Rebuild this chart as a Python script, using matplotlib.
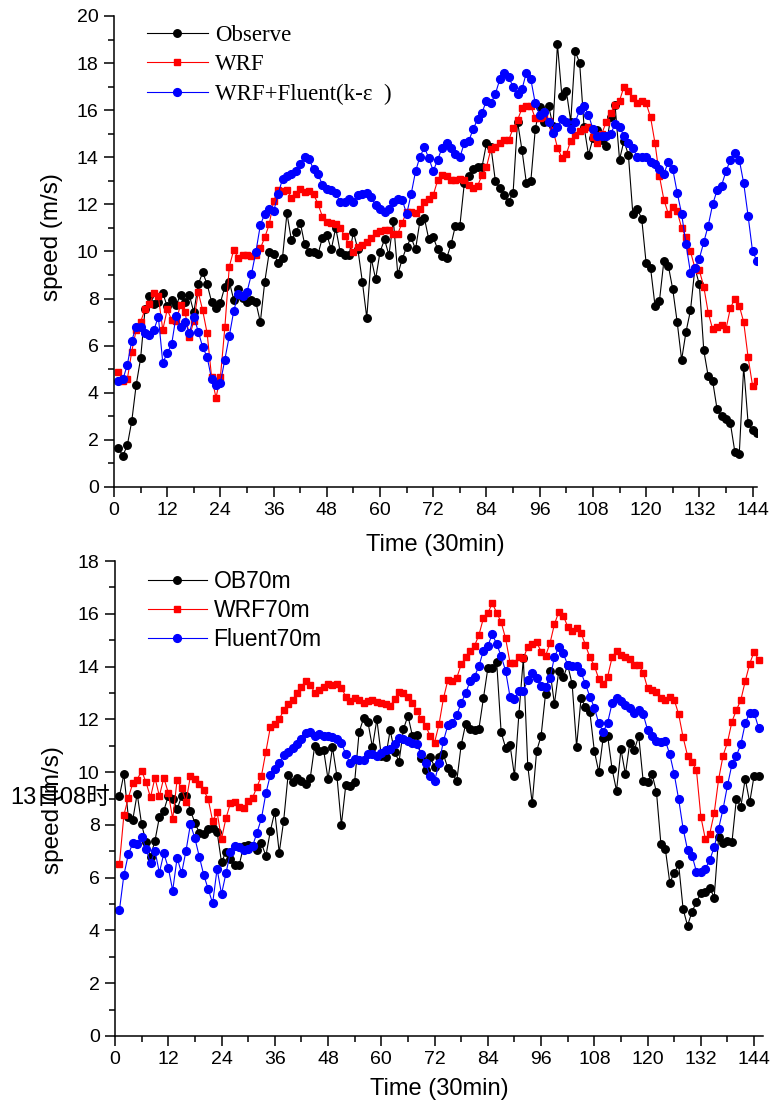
import numpy as np
import matplotlib

matplotlib.use("Agg")
import matplotlib.pyplot as plt
from matplotlib import font_manager
from matplotlib.ticker import MultipleLocator

# ---- data (speed, m/s), one value per 30 min step, steps 1..145 ----
obs_top = [
    1.64, 1.33, 1.77, 2.79, 4.33, 5.46, 7.54, 8.12, 7.77, 7.87,
    8.23, 7.67, 7.95, 7.74, 8.14, 7.84, 8.14, 7.42, 8.61, 9.11,
    8.61, 7.87, 7.59, 7.83, 8.51, 8.72, 7.95, 8.40, 8.01, 7.87,
    7.95, 7.84, 7.00, 8.72, 9.96, 9.91, 9.53, 9.74, 11.62, 10.49,
    10.82, 11.23, 10.30, 9.98, 9.98, 9.88, 10.59, 10.70, 10.09, 11.01,
    9.99, 9.85, 9.85, 10.82, 10.09, 8.72, 7.19, 9.71, 8.83, 9.99,
    10.51, 9.85, 11.31, 9.03, 9.68, 10.20, 10.60, 10.09, 11.31, 11.41,
    10.51, 10.60, 10.09, 9.81, 9.71, 10.30, 11.10, 11.10, 12.90, 13.21,
    13.49, 13.60, 13.60, 14.60, 14.45, 12.99, 12.68, 12.40, 12.09, 12.50,
    15.52, 14.31, 12.90, 12.99, 15.20, 16.12, 15.52, 16.19, 15.33, 18.80,
    16.60, 16.82, 15.52, 18.50, 18.02, 15.30, 14.10, 14.80, 15.14, 14.73,
    14.50, 15.70, 16.20, 13.90, 14.70, 14.10, 11.60, 11.80, 11.40, 9.50,
    9.30, 7.70, 7.90, 9.60, 9.40, 8.40, 7.00, 5.40, 6.60, 7.50,
    9.30, 8.60, 5.80, 4.70, 4.50, 3.30, 3.00, 2.90, 2.70, 1.50,
    1.40, 5.10, 2.70, 2.40, 2.30,
]
wrf_top = [
    4.87, 4.50, 4.57, 5.75, 6.67, 7.02, 7.54, 7.76, 8.23, 8.09,
    6.67, 7.54, 7.09, 7.05, 7.73, 7.45, 6.38, 7.05, 8.27, 7.50,
    6.53, 4.68, 3.79, 4.68, 6.78, 9.36, 10.06, 9.74, 9.85, 9.85,
    9.81, 9.85, 10.13, 10.60, 11.15, 12.14, 12.61, 12.55, 12.60, 12.29,
    12.43, 12.64, 12.54, 12.57, 12.43, 12.02, 11.48, 11.27, 11.23, 11.17,
    11.01, 10.66, 10.30, 9.99, 10.17, 10.27, 10.41, 10.58, 10.80, 10.86,
    10.90, 10.90, 10.76, 10.76, 11.23, 11.69, 11.69, 11.62, 11.79, 12.12,
    12.23, 12.40, 13.03, 13.25, 13.21, 13.03, 13.03, 13.06, 13.03, 12.82,
    12.71, 12.79, 13.25, 13.60, 14.35, 14.45, 14.60, 14.73, 14.73, 15.23,
    15.58, 16.08, 16.18, 16.18, 15.65, 15.65, 15.70, 15.55, 15.16, 14.41,
    13.98, 14.14, 14.71, 14.95, 15.12, 15.19, 15.27, 14.85, 14.60, 15.00,
    15.50, 15.90, 16.20, 16.40, 17.00, 16.80, 16.50, 16.30, 16.40, 16.30,
    15.70, 14.60, 13.20, 12.20, 11.60, 11.90, 11.70, 11.00, 10.60, 10.00,
    9.30, 9.20, 8.50, 7.40, 6.70, 6.80, 6.90, 6.70, 7.60, 8.00,
    7.70, 7.00, 5.50, 4.30, 4.50,
]
fluent_top = [
    4.50, 4.57, 5.18, 6.21, 6.81, 6.78, 6.53, 6.46, 6.67, 7.23,
    5.28, 5.68, 6.06, 7.26, 6.81, 6.99, 6.55, 7.23, 6.60, 5.94,
    5.52, 4.59, 4.33, 4.43, 5.41, 6.41, 7.47, 8.20, 8.11, 8.29,
    9.04, 9.99, 11.12, 11.60, 11.80, 11.71, 12.43, 13.08, 13.21, 13.28,
    13.40, 13.70, 14.03, 13.92, 13.49, 13.30, 12.82, 12.64, 12.61, 12.50,
    12.09, 12.12, 12.22, 12.09, 12.40, 12.43, 12.50, 12.30, 11.97, 11.79,
    11.66, 11.79, 12.12, 12.22, 12.19, 11.59, 12.43, 13.40, 14.03, 14.42,
    13.96, 13.42, 13.90, 14.41, 14.60, 14.41, 14.13, 14.01, 14.60, 14.69,
    15.20, 15.62, 15.90, 16.41, 16.29, 16.69, 17.31, 17.60, 17.40, 17.00,
    16.67, 16.89, 17.60, 17.31, 16.29, 15.80, 15.91, 15.52, 15.02, 15.30,
    15.62, 15.52, 15.20, 15.49, 16.00, 16.19, 15.80, 15.20, 14.90, 14.90,
    14.90, 15.00, 15.40, 15.30, 14.90, 14.60, 14.40, 14.00, 14.00, 14.00,
    13.80, 13.70, 13.50, 13.30, 13.80, 13.50, 12.50, 11.60, 10.30, 9.10,
    9.30, 9.70, 10.40, 11.10, 12.00, 12.60, 12.80, 13.40, 13.90, 14.20,
    13.90, 12.90, 11.50, 10.00, 9.60,
]

ob70 = [
    9.09, 9.92, 8.31, 8.19, 9.18, 8.02, 7.34, 6.80, 7.40, 8.29,
    8.54, 9.09, 9.00, 8.59, 9.09, 9.09, 8.54, 8.08, 7.70, 7.64,
    7.83, 7.90, 7.74, 6.58, 6.99, 6.71, 6.49, 6.49, 7.21, 7.24,
    7.21, 7.05, 7.30, 6.82, 7.77, 8.50, 6.95, 8.15, 9.89, 9.61,
    9.79, 9.66, 9.54, 9.79, 11.00, 10.80, 10.84, 9.73, 10.94, 9.85,
    8.00, 9.51, 9.47, 9.64, 11.51, 12.04, 11.89, 10.94, 12.00, 10.61,
    10.59, 11.59, 10.77, 10.40, 11.63, 12.14, 11.38, 11.40, 10.52, 10.08,
    10.56, 10.21, 10.56, 10.67, 10.14, 9.95, 9.66, 11.03, 11.82, 11.62,
    11.59, 11.65, 12.79, 13.93, 13.96, 14.16, 11.51, 10.93, 11.03, 9.86,
    12.19, 14.31, 10.24, 8.82, 10.80, 11.37, 12.96, 13.85, 12.58, 13.85,
    13.59, 14.06, 13.33, 10.97, 12.79, 12.48, 12.26, 10.80, 10.00, 11.31,
    11.37, 10.11, 9.30, 10.86, 9.92, 11.12, 10.84, 11.37, 9.66, 9.64,
    9.93, 9.24, 7.27, 7.08, 5.81, 6.19, 6.50, 4.81, 4.18, 4.71,
    5.07, 5.41, 5.47, 5.62, 5.24, 7.53, 7.30, 7.39, 7.34, 8.98,
    8.69, 9.75, 8.85, 9.87, 9.87,
]
wrf70 = [
    6.52, 8.37, 9.03, 9.57, 9.72, 10.05, 9.61, 9.04, 9.79, 9.09,
    9.79, 9.22, 8.22, 9.72, 9.38, 8.88, 9.86, 9.74, 9.55, 9.32,
    8.97, 8.15, 8.48, 7.47, 8.25, 8.82, 8.88, 8.69, 8.65, 8.92,
    9.03, 9.45, 9.86, 10.77, 11.70, 11.81, 12.00, 12.35, 12.58, 12.73,
    13.01, 13.24, 13.45, 13.30, 13.01, 13.11, 13.24, 13.34, 13.30, 13.34,
    13.20, 12.86, 12.71, 12.82, 12.73, 12.61, 12.70, 12.73, 12.67, 12.61,
    12.58, 12.50, 12.77, 13.05, 12.99, 12.86, 12.61, 12.33, 12.00, 11.76,
    11.37, 11.12, 11.81, 12.79, 13.49, 13.45, 13.57, 14.08, 14.35, 14.60,
    14.78, 15.20, 15.83, 16.02, 16.40, 16.04, 15.68, 15.07, 14.15, 14.15,
    14.35, 14.31, 14.75, 14.84, 14.92, 14.57, 14.40, 14.88, 15.60, 16.08,
    15.93, 15.51, 15.36, 15.45, 15.28, 14.82, 14.35, 14.03, 13.53, 13.33,
    13.62, 14.35, 14.59, 14.43, 14.37, 14.28, 14.06, 14.06, 13.77, 13.18,
    13.11, 13.05, 12.80, 12.74, 12.86, 12.74, 12.19, 11.32, 10.62, 10.39,
    10.08, 8.31, 7.47, 7.66, 8.44, 9.73, 10.62, 11.13, 11.91, 12.35,
    12.73, 13.45, 14.10, 14.57, 14.25,
]
fluent70 = [
    4.77, 6.10, 6.88, 7.30, 7.26, 7.55, 7.10, 6.54, 7.02, 6.19,
    6.92, 6.38, 5.51, 6.76, 6.16, 7.02, 8.03, 7.49, 6.80, 6.10,
    5.56, 5.03, 6.33, 5.38, 6.16, 6.98, 7.21, 7.17, 7.05, 7.07,
    7.20, 7.71, 8.25, 9.20, 9.89, 10.12, 10.33, 10.65, 10.77, 10.90,
    11.05, 11.24, 11.49, 11.53, 11.37, 11.43, 11.37, 11.35, 11.32, 11.24,
    11.12, 10.67, 10.33, 10.49, 10.47, 10.47, 10.69, 10.69, 10.62, 10.71,
    10.84, 10.88, 11.05, 11.30, 11.24, 11.18, 11.12, 11.05, 10.67, 10.33,
    9.86, 9.66, 10.33, 11.18, 11.78, 11.88, 12.16, 12.63, 12.98, 13.45,
    13.62, 14.02, 14.60, 14.78, 15.23, 14.85, 14.40, 13.84, 12.86, 12.76,
    13.07, 13.07, 13.49, 13.74, 13.58, 13.26, 13.21, 13.55, 14.35, 14.75,
    14.50, 14.06, 14.03, 14.02, 13.78, 13.33, 12.86, 12.44, 11.85, 11.53,
    11.88, 12.61, 12.82, 12.70, 12.54, 12.44, 12.25, 12.37, 12.19, 11.60,
    11.37, 11.18, 11.13, 11.19, 10.67, 9.92, 8.97, 7.86, 7.05, 6.84,
    6.23, 6.23, 6.33, 6.67, 7.15, 7.86, 8.60, 9.50, 10.29, 10.62,
    11.05, 11.85, 12.25, 12.25, 11.68,
]

labels_top = ["Observe", "WRF", "WRF+Fluent(k-\u03b5\u2002)"]
labels_bot = ["OB70m", "WRF70m", "Fluent70m"]
x_ticks = np.arange(0, 145, 12)
stamp = "13日08时"

# ---- fonts ----
installed = {f.name for f in font_manager.fontManager.ttflist}
NARROW = "Liberation Sans Narrow" if "Liberation Sans Narrow" in installed else "Liberation Sans"
SANS = "Liberation Sans"
SERIF = "Liberation Serif"
print("narrow font:", NARROW)

plt.rcParams["font.family"] = [SANS, "DejaVu Sans"]
plt.rcParams["axes.linewidth"] = 1.1

fig = plt.figure(figsize=(7.70, 11.11), dpi=100)
ax_top = fig.add_axes([114 / 770, 1 - 487 / 1111, 643 / 770, 471 / 1111])
ax_bot = fig.add_axes([115 / 770, 1 - 1036 / 1111, 648 / 770, 475 / 1111])

styles = [
    dict(color="black", marker="o", ms=5.4),
    dict(color="#ff0000", marker="s", ms=4.5),
    dict(color="#0000ff", marker="o", ms=5.6),
]


def draw(ax, series, labels, xmax, ymax, legend_font, handle_len, spacing):
    for vals, lab, st in zip(series, labels, styles):
        t = np.arange(1, len(vals) + 1)
        ax.plot(t, vals, color=st["color"], marker=st["marker"], ms=st["ms"],
                mec=st["color"], mfc=st["color"], lw=0.8, label=lab)
    ax.set_xlim(0, xmax)
    ax.set_ylim(0, ymax)
    ax.spines[["top", "right"]].set_visible(False)
    ax.set_xticks(x_ticks)
    ax.xaxis.set_minor_locator(MultipleLocator(6))
    ax.yaxis.set_major_locator(MultipleLocator(2))
    ax.yaxis.set_minor_locator(MultipleLocator(1))
    ax.tick_params(which="major", direction="out", length=7, width=1.1, pad=4)
    ax.tick_params(which="minor", direction="out", length=4, width=1.1)
    for lbl in ax.get_xticklabels():
        lbl.set_fontfamily(NARROW)
        lbl.set_fontsize(14)
    ax.set_xlabel("Time (30min)", fontsize=17, family=NARROW)
    ax.set_ylabel("speed (m/s)", fontsize=17.5, family=SANS)
    ax.legend(loc="upper left", bbox_to_anchor=(0.03, 1.01), frameon=False,
              prop=legend_font, handlelength=handle_len, handletextpad=0.3,
              labelspacing=spacing, borderaxespad=0.2)


draw(ax_top, [obs_top, wrf_top, fluent_top], labels_top, 145, 20,
     dict(family=SERIF, size=16.5), 2.65, 0.36)
draw(ax_bot, [ob70, wrf70, fluent70], labels_bot, 146, 18,
     dict(family=SANS, size=16.5), 2.55, 0.26)

for lbl in ax_top.get_yticklabels():
    lbl.set_fontfamily(NARROW)
    lbl.set_fontsize(14)
for lbl in ax_bot.get_yticklabels():
    lbl.set_fontsize(14)

ax_top.yaxis.set_label_coords(-0.079, 0.53)
ax_bot.yaxis.set_label_coords(-0.079, 0.475)
ax_top.xaxis.set_label_coords(0.5, -0.1)
ax_bot.xaxis.set_label_coords(0.5, -0.088)

fig.text(10 / 770, 1 - 798 / 1111, stamp, fontsize=17, va="center", ha="left",
         family=[SANS, "Noto Sans CJK SC"])

fig.savefig("out.png", dpi=100)
